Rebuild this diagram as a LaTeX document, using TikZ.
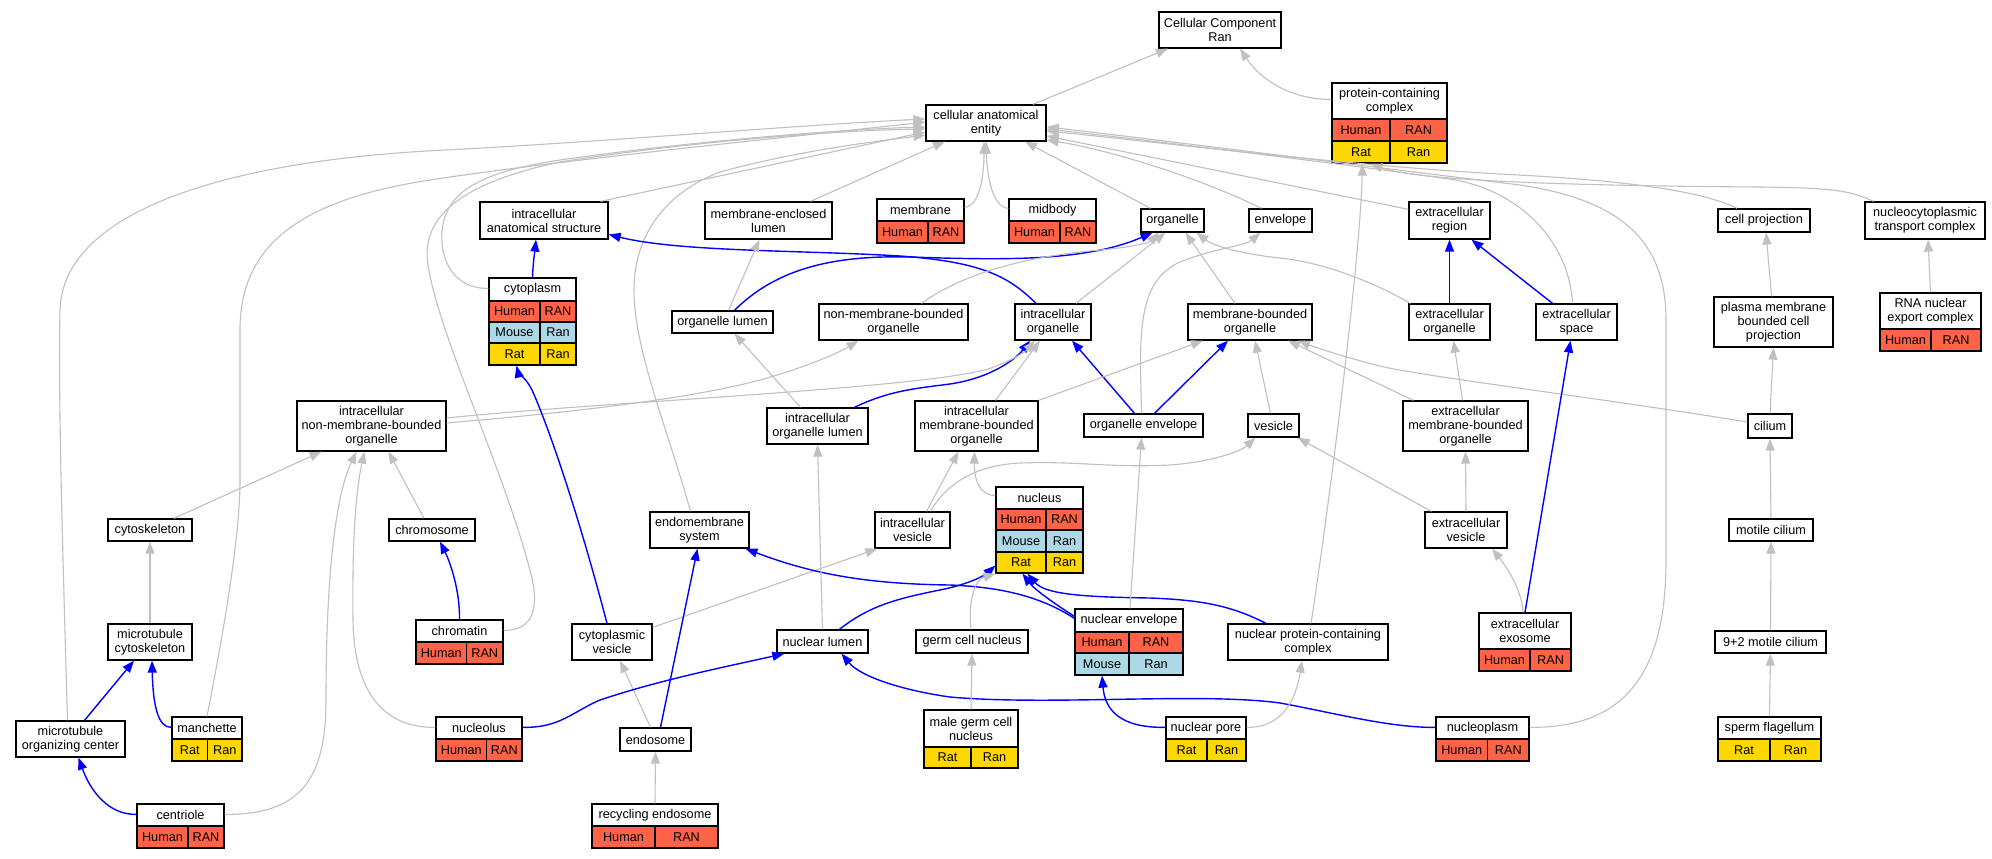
\documentclass[tikz,border=0pt]{standalone}
\usepackage{fontspec}
\setmainfont{Liberation Sans}
\usetikzlibrary{arrows.meta}
\definecolor{hum}{HTML}{FF6347}
\definecolor{rat}{HTML}{FFD700}
\definecolor{mou}{HTML}{ADD8E6}
\definecolor{edgegray}{HTML}{C0C0C0}
\tikzset{
 lbl/.style={font=\fontsize{12.7}{14}\selectfont, align=center, inner sep=0pt},
 cbox/.style={lbl, draw=black, line width=1.3pt},
 tframe/.style={draw=black, line width=1.3pt, inner sep=0pt},
 tline/.style={draw=black, line width=1.1pt},
 ge/.style={draw=edgegray, line width=1.1pt, -{Triangle[length=12pt,width=9pt]}},
 be/.style={draw=blue, line width=1.4pt, -{Triangle[length=12pt,width=9pt]}},
}
\newcommand\pbox[6]{%
 \pgfmathsetmacro\pbw{#3-#2}\pgfmathsetmacro\pbh{#5-#4}%
 \pgfmathsetmacro\pbx{(#2+#3)/2}\pgfmathsetmacro\pby{(#4+#5)/2}%
 \node[cbox,minimum width=\pbw pt,minimum height=\pbh pt] (#1) at (\pbx,\pby) {#6};}
\newcommand\tbox[9]{%
 \foreach \tya/\tyb/\tcl/\tlt/\trt [count=\k] in {#9}{%
   \fill[\tcl] (#2,\tya) rectangle (#3,\tyb);
   \node[lbl] (#1-l\k) at ({(#2+#4)/2},{(\tya+\tyb)/2}) {\tlt};
   \node[lbl] (#1-r\k) at ({(#4+#3)/2},{(\tya+\tyb)/2}) {\trt};
   \draw[tline] (#2,\tya) -- (#3,\tya) (#4,\tya) -- (#4,\tyb);
 }
 \node[lbl] (#1-h) at ({(#2+#3)/2},{(#5+#6)/2}) {#8};
 \pgfmathsetmacro\pbw{#3-#2}\pgfmathsetmacro\pbh{#7-#5}%
 \pgfmathsetmacro\pbx{(#2+#3)/2}\pgfmathsetmacro\pby{(#5+#7)/2}%
 \node[tframe,minimum width=\pbw pt,minimum height=\pbh pt] (#1) at (\pbx,\pby) {};}
\begin{document}
\begin{tikzpicture}[x=1pt,y=-1pt]
\useasboundingbox (0,0) rectangle (1992,859);
\fill[white] (0,0) rectangle (1992,859);
% rank 0-1
\pbox{cc}{1159}{1281}{12}{48}{Cellular Component\\Ran}
\pbox{cae}{926}{1046}{105}{141}{cellular anatomical\\entity}
\tbox{pcc}{1332}{1447}{1390}{83}{119}{163}{protein-containing\\complex}{119/141/hum/Human/RAN,141/163/rat/Rat/Ran}
% rank 2
\pbox{ias}{480}{608}{202}{239}{intracellular\\anatomical structure}
\pbox{mel}{705}{832}{202}{239}{membrane-enclosed\\lumen}
\tbox{mem}{877}{964}{928}{199}{221}{243}{membrane}{221/243/hum/Human/RAN}
\tbox{mid}{1009}{1096}{1060}{199}{221}{243}{midbody}{221/243/hum/Human/RAN}
\pbox{org}{1141}{1204}{209}{232}{organelle}
\pbox{env}{1249}{1312}{209}{232}{envelope}
\pbox{exr}{1409}{1490}{202}{239}{extracellular\\region}
\pbox{cpj}{1718}{1810}{209}{232}{cell projection}
\pbox{nct}{1865}{1985}{202}{239}{nucleocytoplasmic\\transport complex}
% rank 3
\tbox{cyt}{489}{576}{540}{278}{301}{365}{cytoplasm}{301/322/hum/Human/RAN,322/343/mou/Mouse/Ran,343/365/rat/Rat/Ran}
\pbox{orl}{672}{773}{311}{333}{organelle lumen}
\pbox{nmbo}{819}{968}{304}{340}{non-membrane-bounded\\organelle}
\pbox{io}{1015}{1091}{304}{340}{intracellular\\organelle}
\pbox{mbo}{1188}{1312}{304}{340}{membrane-bounded\\organelle}
\pbox{exo}{1409}{1490}{304}{340}{extracellular\\organelle}
\pbox{exs}{1536}{1617}{304}{340}{extracellular\\space}
\pbox{pmb}{1714}{1833}{297}{347}{plasma membrane\\bounded cell\\projection}
\tbox{rne}{1880}{1981}{1931}{293}{329}{351}{RNA nuclear\\export complex}{329/351/hum/Human/RAN}
% rank 4
\pbox{inmbo}{297}{446}{401}{451}{intracellular\\non-membrane-bounded\\organelle}
\pbox{iol}{767}{868}{408}{444}{intracellular\\organelle lumen}
\pbox{imbo}{915}{1038}{401}{451}{intracellular\\membrane-bounded\\organelle}
\pbox{oenv}{1084}{1203}{414}{437}{organelle envelope}
\pbox{ves}{1248}{1299}{414}{437}{vesicle}
\pbox{embo}{1403}{1528}{401}{451}{extracellular\\membrane-bounded\\organelle}
\pbox{cil}{1748}{1792}{414}{438}{cilium}
% rank 5
\pbox{csk}{108}{192}{519}{541}{cytoskeleton}
\pbox{chr}{389}{475}{519}{541}{chromosome}
\pbox{ems}{650}{749}{512}{548}{endomembrane\\system}
\pbox{iv}{875}{950}{512}{548}{intracellular\\vesicle}
\tbox{nuc}{996}{1083}{1046}{487}{509}{573}{nucleus}{509/530/hum/Human/RAN,530/552/mou/Mouse/Ran,552/573/rat/Rat/Ran}
\pbox{ev}{1425}{1507}{512}{548}{extracellular\\vesicle}
\pbox{mcil}{1729}{1813}{519}{541}{motile cilium}
% rank 6
\pbox{mtc}{108}{192}{624}{660}{microtubule\\cytoskeleton}
\tbox{chrt}{416}{503}{466.5}{620}{642}{664}{chromatin}{642/664/hum/Human/RAN}
\pbox{cv}{572}{652}{624}{660}{cytoplasmic\\vesicle}
\pbox{nl}{777}{868}{630}{653}{nuclear lumen}
\pbox{gcn}{916}{1028}{630}{653}{germ cell nucleus}
\tbox{ne}{1075}{1183}{1129}{609}{632}{675}{nuclear envelope}{632/653/hum/Human/RAN,653/675/mou/Mouse/Ran}
\pbox{npcc}{1228}{1388}{624}{660}{nuclear protein-containing\\complex}
\tbox{exom}{1479}{1571}{1530}{613}{649}{671}{extracellular\\exosome}{649/671/hum/Human/RAN}
\pbox{m92}{1715}{1826}{631}{653}{9+2 motile cilium}
% rank 7
\pbox{mtoc}{16}{125}{721}{757}{microtubule\\organizing center}
\tbox{man}{172}{242}{207.6}{717}{739}{761}{manchette}{739/761/rat/Rat/Ran}
\tbox{nucl}{436}{522}{486.6}{717}{739}{761}{nucleolus}{739/761/hum/Human/RAN}
\pbox{endo}{620}{691}{728}{751}{endosome}
\tbox{mgcn}{924}{1018}{971}{710}{747}{768}{male germ cell\\nucleus}{747/768/rat/Rat/Ran}
\tbox{npore}{1166}{1246}{1207}{717}{739}{761}{nuclear pore}{739/761/rat/Rat/Ran}
\tbox{npl}{1436}{1529}{1487.5}{717}{739}{761}{nucleoplasm}{739/761/hum/Human/RAN}
\tbox{sf}{1718}{1821}{1770}{717}{739}{761}{sperm flagellum}{739/761/rat/Rat/Ran}
% rank 8
\tbox{cen}{137}{224}{188}{804}{826}{848}{centriole}{826/848/hum/Human/RAN}
\tbox{rec}{592}{718}{655}{804}{826}{848}{recycling endosome}{826/848/hum/Human/RAN}

% ---------- edges ----------
\draw[ge] ([xshift=47pt]cae.north) -- ([xshift=-52pt]cc.south);
\draw[ge] ([yshift=-17pt]pcc.north west) .. controls (1295,100) and (1262,82) .. ([xshift=20pt]cc.south);
\draw[ge] ([xshift=-8pt]ias.north east) -- ([yshift=-9pt]cae.west);
\draw[ge] ([xshift=42pt]mel.north) -- ([xshift=-41pt]cae.south);
\draw[ge] ([yshift=-9pt]mem.north east) .. controls (980,206) and (984,175) .. ([xshift=-2pt]cae.south);
\draw[ge] ([yshift=-10pt]mid.north west) .. controls (992,207) and (987,175) .. (cae.south);
\draw[ge] ([xshift=-22pt]org.north) -- ([xshift=39pt]cae.south);
\draw[ge] ([xshift=-19pt]env.north) .. controls (1200,178) and (1110,150) .. ([yshift=-17pt]cae.east);
\draw[ge] ([yshift=-8pt]exr.north west) -- ([yshift=-13pt]cae.east);
\draw[ge] ([xshift=-27pt]cpj.north) .. controls (1700,190) and (1620,180) .. (1500,174) .. controls (1350,166) and (1120,138) .. ([yshift=-8pt]cae.east);
\draw[ge] ([xshift=-4pt]exs.north) .. controls (1570,250) and (1530,195) .. (1456,180) .. controls (1330,162) and (1120,137) .. ([yshift=-6pt]cae.east);
\draw[ge] ([yshift=-11pt]npl.north east) .. controls (1620,728) and (1666,680) .. (1666,560) -- (1666,320) .. controls (1666,240) and (1620,200) .. (1520,185) .. controls (1380,168) and (1120,135) .. ([yshift=-4pt]cae.east);
\draw[ge] ([xshift=9pt]nct.north west) .. controls (1850,190) and (1830,188) .. (1760,187) .. controls (1600,186) and (1420,182) .. ([xshift=-19pt]pcc.south);
\draw[ge] ([xshift=3pt]npcc.north) .. controls (1330,500) and (1360,260) .. ([xshift=-27pt]pcc.south);
\draw[ge] ([yshift=-11pt]cyt.north west) .. controls (455,289) and (440,262) .. (442,232) .. controls (445,192) and (480,172) .. (560,160) .. controls (700,140) and (850,129) .. ([yshift=-4pt]cae.west);
\draw[ge] ([yshift=-11pt]chrt.north east) .. controls (535,631) and (538,605) .. (532,578) .. controls (505,470) and (440,340) .. (428,265) .. controls (420,215) and (465,182) .. (560,162) .. controls (700,140) and (850,130) .. ([yshift=-6pt]cae.west);
\draw[ge] ([xshift=-3pt]mtoc.north) .. controls (63,560) and (58,400) .. (60,310) .. controls (63,210) and (230,160) .. (446,150) .. controls (600,142) and (800,125) .. ([yshift=4pt]cae.west);
\draw[ge] (man.north) .. controls (222,640) and (240,540) .. (240,480) -- (240,330) .. controls (240,245) and (300,200) .. (430,180) .. controls (560,160) and (800,136) .. ([yshift=1pt]cae.west);
\draw[ge] ([xshift=-9pt]ems.north) .. controls (668,430) and (634,350) .. (634,290) .. controls (634,240) and (660,195) .. (720,172) .. controls (800,150) and (880,141) .. ([yshift=-12pt]cae.west);
\draw[be] ([xshift=12pt]orl.north) .. controls (775,270) and (830,255) .. (910,257) .. controls (1000,260) and (1085,262) .. ([xshift=-20pt]org.south);
\draw[be] ([xshift=-17pt]io.north) .. controls (1010,278) and (985,262) .. (900,256) .. controls (800,250) and (680,252) .. ([yshift=-14pt]ias.east);
\draw[ge] ([xshift=28pt]nmbo.north) .. controls (965,272) and (1030,256) .. (1100,250) .. controls (1135,247) and (1150,242) .. ([xshift=-14pt]org.south);
\draw[ge] ([xshift=23pt]io.north) -- ([xshift=-7pt]org.south);
\draw[ge] ([xshift=-15pt]mbo.north) -- ([xshift=13pt]org.south);
\draw[ge] ([xshift=2pt]exo.north west) .. controls (1370,280) and (1320,262) .. (1280,258) .. controls (1240,254) and (1212,245) .. ([xshift=24pt]org.south);
\draw[ge] ([xshift=-2pt]oenv.north) .. controls (1140,340) and (1135,282) .. (1180,262) .. controls (1215,248) and (1245,246) .. ([xshift=-20pt]env.south);
\draw[be] ([xshift=-9pt]oenv.north) -- ([xshift=19pt]io.south);
\draw[be] ([xshift=11pt]oenv.north) -- ([xshift=-22pt]mbo.south);
\draw[ge] (imbo.north east) -- ([xshift=-47pt]mbo.south);
\draw[ge] ([xshift=-3pt]ves.north) -- ([xshift=5pt]mbo.south);
\draw[ge] ([xshift=11pt]embo.north west) -- ([xshift=38pt]mbo.south);
\draw[ge] ([yshift=4pt]cil.west) .. controls (1600,398) and (1420,376) .. (1380,366) .. controls (1340,356) and (1312,346) .. ([xshift=48pt]mbo.south);
\draw[be] ([xshift=37pt]iol.north) .. controls (890,390) and (920,388) .. (950,384) .. controls (990,378) and (1015,360) .. ([xshift=-23pt]io.south);
\draw[ge] ([xshift=19pt]imbo.north) -- ([xshift=-13pt]io.south);
\draw[ge] ([yshift=8pt]inmbo.east) .. controls (600,402) and (900,390) .. (985,370) .. controls (1010,362) and (1025,352) .. ([xshift=-18pt]io.south);
\draw[ge] ([yshift=3pt]inmbo.east) .. controls (600,410) and (700,396) .. (760,380) .. controls (810,366) and (840,352) .. ([xshift=-35pt]nmbo.south);
\draw[ge] ([xshift=-17pt]iol.north) -- ([xshift=12pt]orl.south);
\draw[ge] ([xshift=6pt]orl.north) -- ([xshift=-9pt]mel.south);
\draw[be] (exo.north) -- (exr.south);
\draw[be] ([xshift=-24pt]exs.north) -- ([xshift=22pt]exr.south);
\draw[ge] ([xshift=-3pt]embo.north) -- ([xshift=4pt]exo.south);
\draw[be] (exom.north) -- ([xshift=-6pt]exs.south);
\draw[ge] ([xshift=-2pt]pmb.north) -- ([xshift=2pt]cpj.south);
\draw[ge] (cil.north) -- (pmb.south);
\draw[ge] (rne.north) -- ([xshift=3pt]nct.south);
\draw[ge] ([xshift=24pt]csk.north) -- ([xshift=-50pt]inmbo.south);
\draw[ge] ([yshift=-11pt]nucl.north west) .. controls (390,728) and (354,700) .. (353,620) .. controls (352,540) and (356,490) .. ([xshift=-7pt]inmbo.south);
\draw[ge] ([yshift=-11pt]cen.north east) .. controls (300,815) and (326,780) .. (326,700) .. controls (326,560) and (338,490) .. ([xshift=-15pt]inmbo.south);
\draw[ge] ([xshift=-8pt]chr.north) -- ([xshift=17pt]inmbo.south);
\draw[ge] (mtc.north) -- (csk.south);
\draw[be] ([xshift=14pt]mtoc.north) -- ([xshift=-16pt]mtc.south);
\draw[be] ([yshift=-11pt]man.north west) .. controls (158,728) and (153,705) .. ([xshift=2pt]mtc.south);
\draw[be] ([yshift=-11pt]cen.north west) .. controls (108,815) and (90,790) .. ([xshift=8pt]mtoc.south);
\draw[be] (chrt.north) .. controls (460,590) and (450,562) .. ([xshift=8pt]chr.south);
\draw[be] ([xshift=-5pt]cv.north) .. controls (580,520) and (550,430) .. (532,390) .. controls (526,378) and (518,372) .. ([xshift=-16pt]cyt.south);
\draw[be] (cyt.north) .. controls (533,262) and (535,250) .. ([xshift=-8pt]ias.south);
\draw[ge] ([xshift=-5pt]endo.north) -- ([xshift=8pt]cv.south);
\draw[ge] ([yshift=-4pt]cv.north east) -- ([xshift=3pt]iv.south west);
\draw[be] ([xshift=5pt]endo.north) -- ([xshift=-2pt]ems.south);
\draw[be] ([yshift=-10pt]ne.north west) .. controls (1040,596) and (1000,587) .. (950,585) .. controls (870,584) and (815,575) .. ([xshift=46pt]ems.south);
\draw[ge] (rec.north) -- (endo.south);
\draw[be] ([xshift=17pt]nl.north) .. controls (870,605) and (900,598) .. (940,590) .. controls (970,584) and (985,575) .. ([yshift=8pt]nuc.south west);
\draw[ge] ([xshift=-1pt]gcn.north) .. controls (968,600) and (975,580) .. (nuc.south west);
\draw[be] ([yshift=-8pt]ne.north west) .. controls (1055,604) and (1035,590) .. ([xshift=-17pt]nuc.south);
\draw[be] ([xshift=-42pt]npcc.north) .. controls (1230,605) and (1200,600) .. (1150,598) .. controls (1080,597) and (1045,594) .. ([xshift=-12pt]nuc.south);
\draw[ge] ([yshift=-9pt]nuc.north west) .. controls (980,496) and (974,480) .. ([xshift=-2pt]imbo.south);
\draw[ge] ([xshift=14pt]iv.north) -- ([xshift=-18pt]imbo.south);
\draw[ge] ([xshift=18pt]iv.north) .. controls (945,485) and (975,465) .. (1020,463) .. controls (1080,461) and (1110,468) .. (1170,465) .. controls (1210,462) and (1240,452) .. ([xshift=-18pt]ves.south);
\draw[ge] ([xshift=7pt]ev.north west) -- ([xshift=-2pt]ves.south east);
\draw[ge] (ev.north) -- (embo.south);
\draw[ge] ([xshift=-2pt]exom.north) .. controls (1522,590) and (1506,566) .. ([xshift=26pt]ev.south);
\draw[ge] ([xshift=1pt]ne.north) -- ([xshift=-2pt]oenv.south);
\draw[ge] (nl.north) -- (iol.south);
\draw[be] ([yshift=-11pt]nucl.north east) .. controls (560,728) and (572,712) .. (600,700) .. controls (660,680) and (720,668) .. ([xshift=8pt]nl.south west);
\draw[be] ([yshift=-11pt]npl.north west) .. controls (1390,728) and (1330,712) .. (1280,703) .. controls (1200,692) and (1050,706) .. (950,697) .. controls (900,690) and (860,676) .. ([xshift=19pt]nl.south);
\draw[ge] (mgcn.north) -- (gcn.south);
\draw[be] ([yshift=-11pt]npore.north west) .. controls (1120,728) and (1105,710) .. ([xshift=-27pt]ne.south);
\draw[ge] ([yshift=-11pt]npore.north east) .. controls (1282,728) and (1296,700) .. ([xshift=-6pt]npcc.south);
\draw[ge] (mcil.north) -- (cil.south);
\draw[ge] (m92.north) -- (mcil.south);
\draw[ge] (sf.north) -- (m92.south);
\end{tikzpicture}
\end{document}
